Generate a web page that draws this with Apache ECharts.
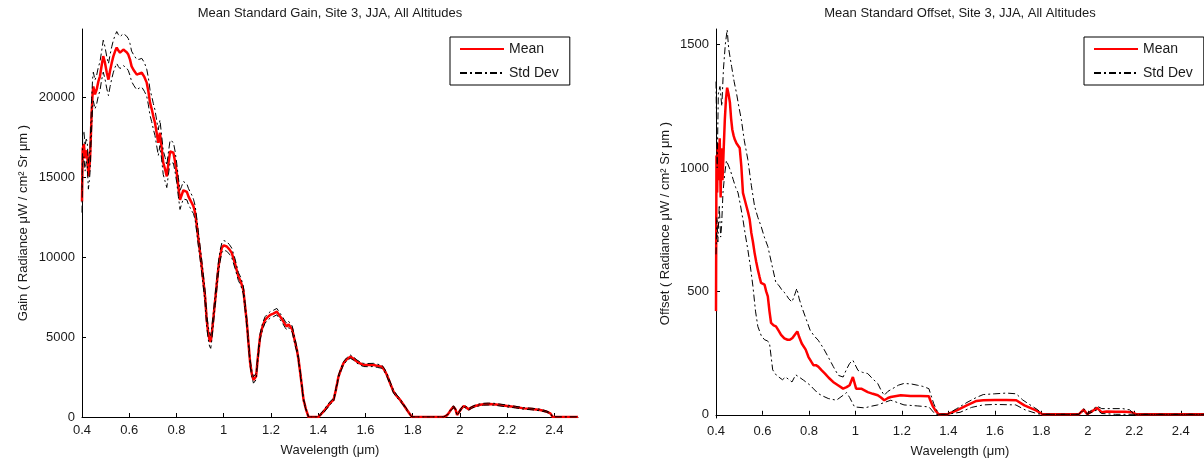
<!DOCTYPE html>
<html>
<head>
<meta charset="utf-8">
<script src="https://cdn.jsdelivr.net/npm/echarts@6/dist/echarts.min.js"></script>
<style>
  html, body { margin: 0; padding: 0; background: #fff; }
  #chart { width: 1204px; height: 463px; }
</style>
</head>
<body>
<div id="chart"></div>
<script>
// ---- left plot: gain (wavelength in um, mean and std of radiance gain)
const gainWl = [
  0.400, 0.403, 0.408, 0.413, 0.418, 0.422, 0.427, 0.431, 0.434, 0.438,
  0.441, 0.445, 0.448, 0.455, 0.462, 0.469, 0.476, 0.483, 0.490, 0.497,
  0.505, 0.512, 0.519, 0.526, 0.533, 0.540, 0.547, 0.554, 0.561, 0.568,
  0.575, 0.582, 0.589, 0.596, 0.603, 0.610, 0.620, 0.632, 0.642, 0.653,
  0.664, 0.674, 0.681, 0.688, 0.695, 0.702, 0.709, 0.716, 0.723, 0.730,
  0.737, 0.744, 0.752, 0.759, 0.766, 0.773, 0.780, 0.787, 0.794, 0.801,
  0.808, 0.815, 0.822, 0.829, 0.836, 0.844, 0.851, 0.858, 0.865, 0.872,
  0.879, 0.886, 0.893, 0.900, 0.907, 0.914, 0.921, 0.928, 0.934, 0.940,
  0.945, 0.950, 0.957, 0.964, 0.971, 0.978, 0.985, 0.992, 1.000, 1.013,
  1.024, 1.034, 1.048, 1.062, 1.072, 1.083, 1.090, 1.098, 1.105, 1.112,
  1.119, 1.126, 1.133, 1.137, 1.145, 1.154, 1.165, 1.175, 1.186, 1.197,
  1.210, 1.225, 1.232, 1.239, 1.250, 1.260, 1.267, 1.274, 1.281, 1.290,
  1.303, 1.310, 1.317, 1.328, 1.338, 1.348, 1.359, 1.401, 1.410, 1.422,
  1.436, 1.451, 1.465, 1.475, 1.486, 1.497, 1.507, 1.520, 1.536, 1.550,
  1.564, 1.578, 1.592, 1.610, 1.634, 1.652, 1.670, 1.680, 1.691, 1.705,
  1.719, 1.733, 1.747, 1.762, 1.776, 1.787, 1.797, 1.931, 1.945, 1.952,
  1.962, 1.973, 1.982, 1.988, 1.995, 2.005, 2.016, 2.027, 2.037, 2.050,
  2.065, 2.080, 2.100, 2.120, 2.143, 2.170, 2.200, 2.235, 2.270, 2.305,
  2.340, 2.365, 2.383, 2.393, 2.500
];
const gainMean = [
  13500, 16800, 17100, 16200, 16700, 16550, 15070, 15600, 16100, 17800,
  19060, 20300, 20700, 20200, 20500, 21000, 21340, 22000, 22600, 22200,
  21560, 21130, 21700, 22190, 22600, 22900, 23140, 22950, 22820, 22900,
  23010, 22950, 22850, 22700, 22400, 21960, 21700, 21440, 21500, 21560,
  21300, 20940, 20400, 19690, 19300, 18830, 18430, 17800, 17180, 17800,
  16900, 15930, 15500, 15070, 15900, 16630, 16700, 16550, 16000, 15300,
  14400, 13600, 13900, 14200, 14230, 14100, 13800, 13600, 13400, 13190,
  12790, 12000, 11100, 10300, 9420, 8500, 7540, 6080, 5300, 4830,
  4700, 5270, 6300, 7340, 8400, 9420, 10100, 10600, 10750, 10680,
  10500, 10280, 9600, 8800, 8500, 7960, 7000, 5890, 4600, 3380,
  2700, 2320, 2350, 2530, 3800, 5030, 5700, 6080, 6250, 6400,
  6480, 6600, 6650, 6290, 6050, 5800, 5660, 5800, 5770, 5500,
  4640, 4200, 3570, 2300, 1070, 500, 0, 0, 150, 330,
  600, 880, 1070, 1700, 2530, 3000, 3370, 3600, 3780, 3650,
  3470, 3350, 3260, 3250, 3260, 3200, 3150, 2950, 2630, 2100,
  1590, 1300, 1070, 750, 440, 200, 0, 0, 100, 230,
  450, 650, 450, 125, 230, 500, 690, 600, 480, 600,
  690, 750, 800, 810, 800, 750, 690, 620, 540, 500,
  440, 350, 230, 0, 0
];
const gainStd = [
  700, 900, 800, 800, 700, 700, 800, 800, 800, 800,
  900, 900, 900, 900, 900, 900, 900, 900, 1000, 1000,
  1000, 1000, 1000, 1000, 1000, 1000, 1000, 1000, 1000, 1000,
  1000, 1000, 1000, 1000, 1000, 950, 950, 950, 900, 900,
  900, 850, 850, 800, 800, 800, 800, 800, 800, 800,
  750, 750, 750, 700, 700, 700, 650, 650, 650, 600,
  600, 600, 550, 550, 550, 500, 500, 500, 500, 450,
  450, 450, 450, 400, 400, 400, 400, 400, 400, 400,
  400, 400, 350, 350, 350, 350, 350, 300, 300, 300,
  300, 300, 300, 250, 250, 250, 250, 250, 250, 200,
  200, 200, 200, 200, 200, 200, 200, 200, 200, 200,
  200, 200, 200, 200, 200, 200, 200, 200, 200, 200,
  200, 150, 150, 150, 100, 50, 0, 0, 50, 80,
  100, 100, 100, 100, 100, 100, 100, 100, 100, 100,
  100, 100, 100, 100, 100, 100, 100, 100, 100, 100,
  100, 80, 80, 50, 50, 30, 0, 0, 30, 40,
  50, 60, 50, 30, 40, 50, 60, 60, 50, 50,
  60, 60, 60, 60, 60, 60, 60, 50, 50, 50,
  50, 40, 40, 0, 0
];

// ---- right plot: offset, [wavelength, value]
const offsetMean = [
  [0.400, 420], [0.402, 1050], [0.405, 900], [0.408, 1100], [0.412, 950], [0.416, 1120],
  [0.420, 880], [0.424, 1080], [0.428, 950], [0.432, 1050], [0.438, 1196], [0.443, 1280],
  [0.448, 1325], [0.454, 1300], [0.460, 1264], [0.465, 1200], [0.470, 1156], [0.476, 1130],
  [0.481, 1115], [0.488, 1100], [0.495, 1102], [0.502, 1081], [0.509, 1007], [0.516, 899],
  [0.524, 870], [0.531, 845], [0.538, 820], [0.545, 791], [0.552, 737], [0.559, 700],
  [0.566, 656], [0.573, 620], [0.580, 588], [0.587, 560], [0.594, 534], [0.602, 527],
  [0.609, 527], [0.616, 500], [0.623, 480], [0.630, 420], [0.637, 372], [0.648, 362],
  [0.658, 358], [0.670, 340], [0.680, 324], [0.694, 310], [0.708, 304], [0.718, 304],
  [0.729, 311], [0.740, 325], [0.750, 338], [0.758, 315], [0.769, 289], [0.786, 264],
  [0.798, 234], [0.810, 215], [0.819, 201], [0.830, 201], [0.840, 195], [0.855, 180],
  [0.869, 167], [0.885, 150], [0.904, 133], [0.925, 120], [0.947, 106], [0.962, 112],
  [0.975, 120], [0.989, 153], [1.003, 106], [1.025, 106], [1.053, 92], [1.075, 85],
  [1.096, 79], [1.110, 70], [1.124, 59], [1.140, 68], [1.152, 72], [1.195, 79],
  [1.237, 76], [1.280, 76], [1.316, 75], [1.322, 59], [1.333, 35], [1.344, 18],
  [1.358, 2], [1.394, 2], [1.436, 18], [1.479, 38], [1.521, 56], [1.550, 59],
  [1.600, 60], [1.650, 60], [1.692, 59], [1.727, 38], [1.777, 18], [1.805, 2],
  [1.961, 2], [1.982, 21], [1.997, 3], [2.020, 15], [2.040, 28], [2.060, 10],
  [2.080, 13], [2.120, 12], [2.160, 12], [2.190, 10], [2.210, 2], [2.500, 2]
];
const offsetUpper = [
  [0.400, 1350], [0.405, 1000], [0.410, 1300], [0.417, 1330], [0.425, 1250], [0.432, 1400],
  [0.440, 1500], [0.448, 1560], [0.455, 1480], [0.467, 1412], [0.478, 1350], [0.488, 1304],
  [0.498, 1250], [0.509, 1196], [0.522, 1110], [0.537, 1034], [0.552, 930], [0.566, 845],
  [0.580, 800], [0.594, 764], [0.608, 720], [0.623, 682], [0.640, 610], [0.658, 534],
  [0.670, 525], [0.684, 505], [0.699, 491], [0.713, 470], [0.727, 457], [0.740, 490],
  [0.748, 512], [0.758, 470], [0.769, 437], [0.787, 390], [0.805, 343], [0.822, 320],
  [0.840, 302], [0.862, 270], [0.883, 234], [0.905, 195], [0.926, 160], [0.947, 153],
  [0.962, 185], [0.975, 208], [0.989, 221], [1.011, 180], [1.030, 172], [1.053, 167],
  [1.075, 145], [1.096, 127], [1.110, 100], [1.124, 79], [1.140, 95], [1.160, 106],
  [1.185, 120], [1.209, 127], [1.240, 125], [1.266, 120], [1.290, 115], [1.316, 106],
  [1.337, 45], [1.358, 2], [1.394, 2], [1.436, 25], [1.480, 50], [1.520, 70],
  [1.550, 82], [1.600, 85], [1.650, 88], [1.692, 85], [1.720, 60], [1.760, 35],
  [1.785, 20], [1.805, 2], [1.961, 2], [1.982, 25], [1.997, 5], [2.040, 35],
  [2.060, 25], [2.100, 25], [2.150, 25], [2.180, 20], [2.200, 2], [2.500, 2]
];
const offsetLower = [
  [0.400, 650], [0.404, 800], [0.408, 700], [0.414, 850], [0.420, 720], [0.424, 764],
  [0.430, 900], [0.438, 980], [0.445, 1030], [0.452, 1034], [0.462, 990], [0.474, 953],
  [0.485, 920], [0.495, 899], [0.505, 850], [0.516, 791], [0.526, 730], [0.537, 669],
  [0.548, 600], [0.559, 520], [0.570, 420], [0.580, 358], [0.595, 320], [0.609, 304],
  [0.620, 300], [0.630, 292], [0.644, 182], [0.660, 160], [0.686, 142], [0.699, 153],
  [0.715, 142], [0.727, 133], [0.743, 162], [0.748, 167], [0.765, 148], [0.777, 140],
  [0.805, 120], [0.820, 105], [0.840, 86], [0.862, 75], [0.883, 66], [0.918, 59],
  [0.947, 79], [0.962, 90], [0.975, 70], [0.996, 32], [1.039, 28], [1.070, 35],
  [1.096, 40], [1.125, 50], [1.152, 59], [1.180, 50], [1.209, 40], [1.266, 36],
  [1.316, 32], [1.344, 2], [1.394, 2], [1.450, 10], [1.500, 30], [1.550, 40],
  [1.600, 42], [1.690, 40], [1.730, 20], [1.780, 5], [1.800, 2], [1.961, 2],
  [1.982, 15], [1.997, 2], [2.040, 20], [2.060, 5], [2.120, 2], [2.500, 2]
];

const xTicks = [0.4, 0.6, 0.8, 1, 1.2, 1.4, 1.6, 1.8, 2, 2.2, 2.4];
const gainTicks = [0, 5000, 10000, 15000, 20000];
const offsetTicks = [0, 500, 1000, 1500];

const gainUpper = gainWl.map((w, i) => [w, gainMean[i] + gainStd[i]]);
const gainLower = gainWl.map((w, i) => [w, Math.max(0, gainMean[i] - gainStd[i])]);

const font = "'Liberation Sans', Arial, sans-serif";
const ink = "#1a1a1a";
const dashDot = [7, 3, 2, 3];

function xAxisOf(gi) {
  return {
    type: "value",
    gridIndex: gi,
    min: 0.4,
    max: 2.5,
    name: "Wavelength (μm)",
    nameLocation: "middle",
    nameGap: 27,
    nameTextStyle: { color: ink, fontSize: 13, fontFamily: font },
    axisLine: { lineStyle: { color: "#000", width: 1 } },
    axisTick: { inside: true, length: 4, customValues: xTicks, lineStyle: { color: "#000" } },
    axisLabel: { customValues: xTicks, margin: 7, color: ink, fontSize: 13, fontFamily: font,
                 formatter: (v) => String(v) },
    splitLine: { show: false },
  };
}

function yAxisOf(gi, name, min, max, ticks, gap) {
  return {
    type: "value",
    gridIndex: gi,
    min: min,
    max: max,
    name: name,
    nameLocation: "middle",
    nameGap: gap,
    nameTextStyle: { color: ink, fontSize: 13, fontFamily: font },
    axisLine: { show: true, lineStyle: { color: "#000", width: 1 } },
    axisTick: { show: true, inside: true, length: 4, customValues: ticks, lineStyle: { color: "#000" } },
    axisLabel: { customValues: ticks, margin: 7, color: ink, fontSize: 13, fontFamily: font,
                 formatter: (v) => String(v) },
    splitLine: { show: false },
  };
}

function legendAt(x) {
  return {
    left: x,
    top: 37,
    orient: "vertical",
    data: ["Mean", "Std Dev"],
    itemWidth: 44,
    itemHeight: 14,
    itemGap: 10,
    padding: [5, 11, 5, 9],
    backgroundColor: "#fff",
    borderColor: "#000",
    borderWidth: 1,
    borderRadius: 0,
    itemStyle: { opacity: 0 },
    textStyle: { color: ink, fontSize: 14, fontFamily: font },
  };
}

function line(name, data, gi, color, width, type) {
  return {
    name: name,
    type: "line",
    xAxisIndex: gi,
    yAxisIndex: gi,
    data: data,
    symbol: "none",
    animation: false,
    lineStyle: { color: color, width: width, type: type },
    itemStyle: { color: color },
  };
}

const chart = echarts.init(document.getElementById("chart"));
chart.setOption({
  animation: false,
  title: [
    {
      text: "Mean Standard Gain, Site 3, JJA, All Altitudes",
      left: 325, top: 2, textAlign: "center",
      textStyle: { color: ink, fontSize: 13, fontWeight: "normal", fontFamily: font },
    },
    {
      text: "Mean Standard Offset, Site 3, JJA, All Altitudes",
      left: 955, top: 2, textAlign: "center",
      textStyle: { color: ink, fontSize: 13, fontWeight: "normal", fontFamily: font },
    },
  ],
  legend: [legendAt(450), legendAt(1084)],
  grid: [
    { left: 82, right: 626, top: 29, bottom: 46 },
    { left: 716, right: -6, top: 29, bottom: 45 },
  ],
  xAxis: [xAxisOf(0), xAxisOf(1)],
  yAxis: [
    yAxisOf(0, "Gain ( Radiance μW / cm² Sr μm )", 0, 24300, gainTicks, 52),
    yAxisOf(1, "Offset ( Radiance μW / cm² Sr μm )", -13, 1563, offsetTicks, 44),
  ],
  series: [
    line("Mean", gainWl.map((w, i) => [w, gainMean[i]]), 0, "#ff0000", 2.5, "solid"),
    line("Std Dev", gainUpper, 0, "#000", 1, dashDot),
    line("Std Dev", gainLower, 0, "#000", 1, dashDot),
    line("Mean", offsetMean, 1, "#ff0000", 2.5, "solid"),
    line("Std Dev", offsetUpper, 1, "#000", 1, dashDot),
    line("Std Dev", offsetLower, 1, "#000", 1, dashDot),
  ],
});
</script>
</body>
</html>
